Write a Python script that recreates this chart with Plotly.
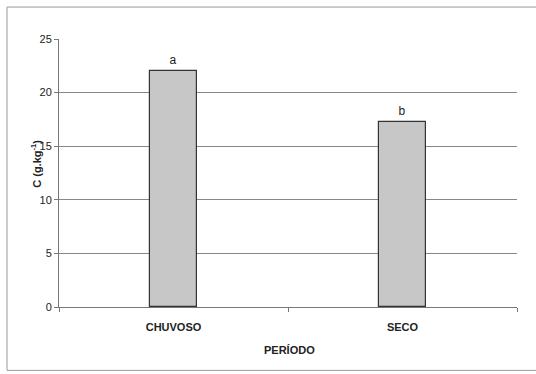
import plotly.graph_objects as go

# Carbon content by season
periodos = ["CHUVOSO", "SECO"]
carbono = [22.0, 17.3]
letras = ["a", "b"]
y_ticks = [0, 5, 10, 15, 20, 25]

W, H = 536, 374
L, R, T, B = 59, 517, 39, 307.5
pw, ph = R - L, B - T

def px(x):
    return (x - L) / pw

def py(y):
    return (B - y) / ph

letter_font = dict(family="Liberation Sans, Arial", size=12, color="#222222")

fig = go.Figure()
fig.add_trace(go.Bar(
    x=periodos,
    y=carbono,
    width=0.205,
    text=letras,
    textposition="outside",
    cliponaxis=False,
    textfont=letter_font,
    outsidetextfont=letter_font,
    marker=dict(
        color="#c8c8c8",
        line=dict(color="#333333", width=1.2),
        pattern=dict(shape=".", fgcolor="#777777", bgcolor="#dcdcdc",
                     size=2, solidity=0.5),
    ),
))

fig.update_layout(
    width=W, height=H,
    margin=dict(l=L, r=W - R, t=T, b=H - B),
    paper_bgcolor="white",
    plot_bgcolor="white",
    showlegend=False,
    bargap=0,
    xaxis=dict(
        type="category",
        tickson="boundaries",
        ticks="outside",
        ticklen=4,
        tickcolor="#777",
        showline=True,
        linecolor="#777",
        linewidth=1,
        showgrid=False,
        ticklabelstandoff=10,
        tickfont=dict(family="Liberation Sans Narrow, Arial", size=11, color="#222", weight="bold"),
        range=[-0.5, 1.5],
    ),
    yaxis=dict(
        range=[0, 25],
        tickvals=y_ticks,
        ticks="outside",
        ticklen=4,
        tickcolor="#777",
        showline=True,
        linecolor="#777",
        linewidth=1,
        showgrid=True,
        gridcolor="#888",
        gridwidth=1,
        zeroline=False,
        tickfont=dict(family="Liberation Sans, Arial", size=11, color="#222"),
    ),
    shapes=[dict(
        type="rect", xref="paper", yref="paper",
        x0=px(7), x1=px(560), y0=py(371), y1=py(7),
        line=dict(color="#9a9a9a", width=1), fillcolor="rgba(0,0,0,0)",
        layer="below",
    )],
    annotations=[
        dict(text="<b>PERÍODO</b>", xref="paper", yref="paper",
             x=px(289), y=py(351), xanchor="center", yanchor="middle",
             showarrow=False,
             font=dict(family="Liberation Sans Narrow, Arial", size=11, color="#222")),
        dict(text="<b>C (g.kg<sup>-1</sup>)</b>", xref="paper", yref="paper",
             x=px(36), y=py(164), xanchor="center", yanchor="middle",
             showarrow=False, textangle=-90,
             font=dict(family="Liberation Sans, Arial", size=11, color="#222")),
    ],
)

fig.write_html("out.html")
